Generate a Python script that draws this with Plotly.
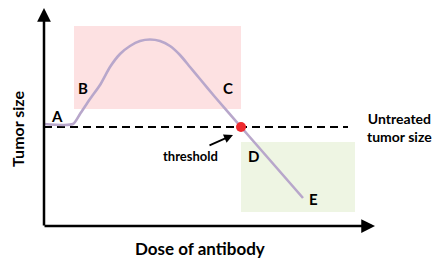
import plotly.graph_objects as go

# Canvas-space schematic coordinates (pixels, y downward)
curve_x = [44, 73, 80, 90, 100, 110, 120, 130, 140, 150, 160, 170, 180, 190, 200, 215, 241, 303]
curve_y = [124, 124, 114, 99, 85, 67, 54, 46, 41, 39.5, 41, 46, 55, 67, 79, 97, 127, 198]

threshold_x = [241]
threshold_y = [127]

baseline_x = [44, 348]
baseline_y = [127, 127]

pink_box = [74, 241, 26, 109]    # x0, x1, y0, y1
green_box = [241, 355, 142, 212]

origin = [44, 226]
x_axis_end = 375
y_axis_end = 8

point_labels = ["A", "B", "C", "D", "E"]
point_label_x = [57, 83, 228, 253, 313]
point_label_y = [116, 88, 88, 156, 199]

FONT = "Lato"
PAGE_MARGIN = 8  # default body margin of the html page

fig = go.Figure()

fig.add_shape(type="rect", x0=pink_box[0], x1=pink_box[1], y0=pink_box[2], y1=pink_box[3],
              fillcolor="#fde1e2", line_width=0, layer="below")
fig.add_shape(type="rect", x0=green_box[0], x1=green_box[1], y0=green_box[2], y1=green_box[3],
              fillcolor="#eef5e3", line_width=0, layer="below")

fig.add_trace(go.Scatter(x=baseline_x, y=baseline_y, mode="lines",
                         line=dict(color="black", width=2.2, dash="8px,5px"),
                         hoverinfo="skip", showlegend=False))
fig.add_trace(go.Scatter(x=curve_x, y=curve_y, mode="lines",
                         line=dict(color="#b8a7cb", width=2.6, shape="spline", smoothing=0.6),
                         hoverinfo="skip", showlegend=False))
fig.add_trace(go.Scatter(x=threshold_x, y=threshold_y, mode="markers",
                         marker=dict(color="#ee2a2e", size=10),
                         hoverinfo="skip", showlegend=False))

# axes with arrows
fig.add_annotation(x=origin[0], y=y_axis_end, ax=origin[0], ay=origin[1] + 1,
                   xref="x", yref="y", axref="x", ayref="y", text="",
                   showarrow=True, arrowhead=2, arrowsize=1.1, arrowwidth=2.5, arrowcolor="black")
fig.add_annotation(x=x_axis_end, y=origin[1], ax=origin[0] - 1, ay=origin[1],
                   xref="x", yref="y", axref="x", ayref="y", text="",
                   showarrow=True, arrowhead=2, arrowsize=1.1, arrowwidth=2.5, arrowcolor="black")

# threshold arrow
fig.add_annotation(x=233, y=135, ax=208, ay=146, xref="x", yref="y", axref="x", ayref="y",
                   text="", showarrow=True, arrowhead=2, arrowsize=1, arrowwidth=1.8,
                   arrowcolor="black")

for t, lx, ly in zip(point_labels, point_label_x, point_label_y):
    fig.add_annotation(x=lx, y=ly, text=f"<b>{t}</b>", showarrow=False,
                       font=dict(family=FONT, size=15, color="black"))

fig.add_annotation(x=190, y=156, text="<b>threshold</b>", showarrow=False,
                   font=dict(family=FONT, size=13, color="black"))
fig.add_annotation(x=399, y=127, text="<b>Untreated<br>tumor size</b>", showarrow=False,
                   align="center", font=dict(family=FONT, size=14, color="black"))
fig.add_annotation(x=200, y=248, text="<b>Dose of antibody</b>", showarrow=False,
                   font=dict(family=FONT, size=17, color="black"))
fig.add_annotation(x=17, y=129, text="<b>Tumor size</b>", showarrow=False, textangle=-90,
                   font=dict(family=FONT, size=16, color="black"))

W, H = 443, 265
fig.update_layout(
    width=W - PAGE_MARGIN, height=H - PAGE_MARGIN,
    margin=dict(l=0, r=0, t=0, b=0),
    paper_bgcolor="white", plot_bgcolor="white",
    xaxis=dict(range=[PAGE_MARGIN, W], visible=False, fixedrange=True),
    yaxis=dict(range=[H, PAGE_MARGIN], visible=False, fixedrange=True),
    showlegend=False,
)

fig.write_html("out.html")
